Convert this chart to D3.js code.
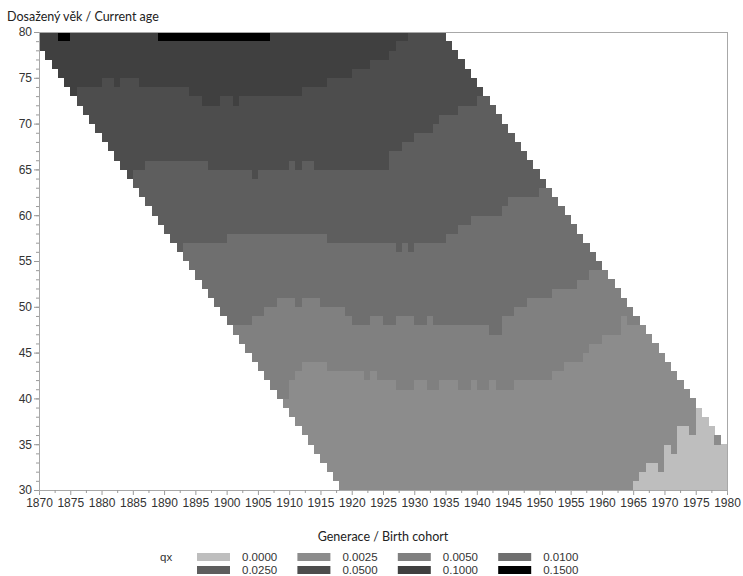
<!DOCTYPE html>
<html>
<head>
<meta charset="utf-8">
<script src="https://cdn.jsdelivr.net/npm/d3@7/dist/d3.min.js"></script>
<style>
  body { margin: 0; background: #fff; }
  text { font-family: "Liberation Sans", Arial, sans-serif; }
</style>
</head>
<body>
<svg id="chart" width="743" height="576"></svg>
<script>
// cohorts 1870-1979, ages 30-79, observed calendar years 1948-2013
var cohortRange = [1870, 1980];
var ageRange = [30, 80];
var yearsObserved = [1948, 2013];

var qxLabels = ["0.0000", "0.0025", "0.0050", "0.0100", "0.0250", "0.0500", "0.1000", "0.1500"];

// lowest age (per run of cohorts) at which qx reaches each class, [from, to, age]; 99 = never
var lim1 = [[1870,1964,30],[1965,1965,31],[1966,1966,32],[1967,1968,33],[1969,1969,32],[1970,1970,35],
  [1971,1971,34],[1972,1973,37],[1974,1974,36],[1975,1977,99],[1978,1978,35],[1979,1979,99]];
var lim2 = [[1870,1904,44],[1905,1905,43],[1906,1906,42],[1907,1907,41],[1908,1909,40],[1910,1910,42],
  [1911,1911,43],[1912,1915,44],[1916,1921,43],[1922,1922,42],[1923,1923,43],[1924,1926,42],[1927,1929,41],
  [1930,1931,42],[1932,1933,41],[1934,1936,42],[1937,1938,41],[1939,1939,42],[1940,1941,41],[1942,1942,42],
  [1943,1945,41],[1946,1951,42],[1952,1953,43],[1954,1956,44],[1957,1957,45],[1958,1959,46],[1960,1962,47],
  [1963,1963,49],[1964,1965,48],[1966,1979,99]];
var lim3 = [[1870,1897,51],[1898,1898,50],[1899,1899,49],[1900,1903,48],[1904,1905,49],[1906,1907,50],
  [1908,1910,51],[1911,1911,50],[1912,1914,51],[1915,1918,50],[1919,1919,49],[1920,1922,48],[1923,1924,49],
  [1925,1926,48],[1927,1929,49],[1930,1931,48],[1932,1932,49],[1933,1941,48],[1942,1943,47],[1944,1945,49],
  [1946,1947,50],[1948,1951,51],[1952,1955,52],[1956,1957,53],[1958,1979,54]];
var lim4 = [[1870,1890,58],[1891,1891,57],[1892,1892,56],[1893,1899,57],[1900,1915,58],[1916,1926,57],
  [1927,1927,56],[1928,1928,57],[1929,1929,56],[1930,1934,57],[1935,1936,58],[1937,1938,59],[1939,1943,60],
  [1944,1944,61],[1945,1949,62],[1950,1979,63]];
var lim5 = [[1870,1882,66],[1883,1883,65],[1884,1884,64],[1885,1886,65],[1887,1896,66],[1897,1903,65],
  [1904,1904,64],[1905,1909,65],[1910,1910,66],[1911,1911,65],[1912,1913,66],[1914,1925,65],[1926,1927,67],
  [1928,1929,68],[1930,1932,69],[1933,1933,70],[1934,1936,71],[1937,1939,72],[1940,1940,73],[1941,1979,99]];
var lim6 = [[1870,1874,74],[1875,1875,73],[1876,1879,74],[1880,1881,75],[1882,1882,74],[1883,1885,75],
  [1886,1893,74],[1894,1895,73],[1896,1898,72],[1899,1900,73],[1901,1901,72],[1902,1911,73],[1912,1915,74],
  [1916,1919,75],[1920,1922,76],[1923,1925,77],[1926,1926,78],[1927,1928,79],[1929,1979,99]];
var lim7 = [[1873,1874,79],[1889,1906,79]];

var limits = [lim1, lim2, lim3, lim4, lim5, lim6, lim7];
var greys = ["#bebebe", "#8c8c8c", "#808080", "#6f6f6f", "#5e5e5e", "#4d4d4d", "#404040", "#000000"];

var svg = d3.select("#chart");
var x = d3.scaleLinear().domain(cohortRange).range([39, 727]);
var y = d3.scaleLinear().domain(ageRange).range([490, 32]);
var color = d3.scaleOrdinal().domain(d3.range(8)).range(greys);

function limitAt(segs, c) {
  var s = segs.find(function(d) { return c >= d[0] && c <= d[1]; });
  return s ? s[2] : 99;
}

// build cells
var cells = [];
d3.range(cohortRange[0], cohortRange[1]).forEach(function(c) {
  d3.range(ageRange[0], ageRange[1]).forEach(function(a) {
    if (c + a < yearsObserved[0] || c + a > yearsObserved[1]) return;
    var k = 0;
    limits.forEach(function(l) { if (a >= limitAt(l, c)) k++; });
    cells.push({c: c, a: a, k: k});
  });
});

svg.append("g")
  .attr("shape-rendering", "crispEdges")
  .selectAll("rect")
  .data(cells)
  .enter().append("rect")
  .attr("x", function(d) { return x(d.c); })
  .attr("y", function(d) { return y(d.a + 1); })
  .attr("width", function(d) { return x(d.c + 1) - x(d.c) + 0.3; })
  .attr("height", function(d) { return y(d.a) - y(d.a + 1) + 0.3; })
  .attr("fill", function(d) { return color(d.k); });

// frame
svg.append("rect")
  .attr("x", x(1870)).attr("y", y(80))
  .attr("width", x(1980) - x(1870)).attr("height", y(30) - y(80))
  .attr("fill", "none").attr("stroke", "#a8a8a8").attr("shape-rendering", "crispEdges");

// axes
var xAxis = svg.append("g")
  .attr("transform", "translate(0," + y(30) + ")")
  .call(d3.axisBottom(x).tickValues(d3.range(1870, 1981, 5)).tickSize(5).tickPadding(3).tickFormat(d3.format("d")));
svg.append("g")
  .attr("transform", "translate(0," + y(30) + ")")
  .call(d3.axisBottom(x).tickValues(d3.range(1872.5, 1980, 5)).tickSize(3).tickFormat(""));

var yAxis = svg.append("g")
  .attr("transform", "translate(" + x(1870) + ",0)")
  .call(d3.axisLeft(y).tickValues(d3.range(30, 81, 5)).tickSize(5).tickPadding(2));
svg.append("g")
  .attr("transform", "translate(" + x(1870) + ",0)")
  .call(d3.axisLeft(y).tickValues(d3.range(30, 81, 1)).tickSize(3).tickFormat(""));

svg.selectAll(".domain").attr("stroke", "#a8a8a8");
svg.selectAll(".tick line").attr("stroke", "#9a9a9a");
svg.selectAll(".tick text").attr("fill", "#333").style("font-size", "12px");

// titles
svg.append("text")
  .attr("x", 7).attr("y", 21)
  .style("font-family", "Lato, 'Open Sans', sans-serif").style("font-size", "12.5px")
  .attr("fill", "#222")
  .text("Dosažený věk / Current age");

svg.append("text")
  .attr("x", (x(1870) + x(1980)) / 2).attr("y", 541)
  .attr("text-anchor", "middle")
  .style("font-family", "Lato, 'Open Sans', sans-serif").style("font-size", "12.5px")
  .attr("fill", "#222")
  .text("Generace / Birth cohort");

// legend
var legend = svg.append("g");
legend.append("text")
  .attr("x", 160).attr("y", 561)
  .attr("fill", "#333").style("font-size", "11.5px")
  .text("qx");

var items = legend.selectAll("g.item")
  .data(qxLabels)
  .enter().append("g")
  .attr("class", "item")
  .attr("transform", function(d, i) { return "translate(" + (197 + (i % 4) * 100.4) + "," + (553 + Math.floor(i / 4) * 13) + ")"; });

items.append("rect")
  .attr("width", 33).attr("height", 8)
  .attr("fill", function(d, i) { return color(i); });

items.append("text")
  .attr("x", 45).attr("y", 8)
  .attr("fill", "#333").style("font-size", "11.5px")
  .text(function(d) { return d; });
</script>
</body>
</html>
